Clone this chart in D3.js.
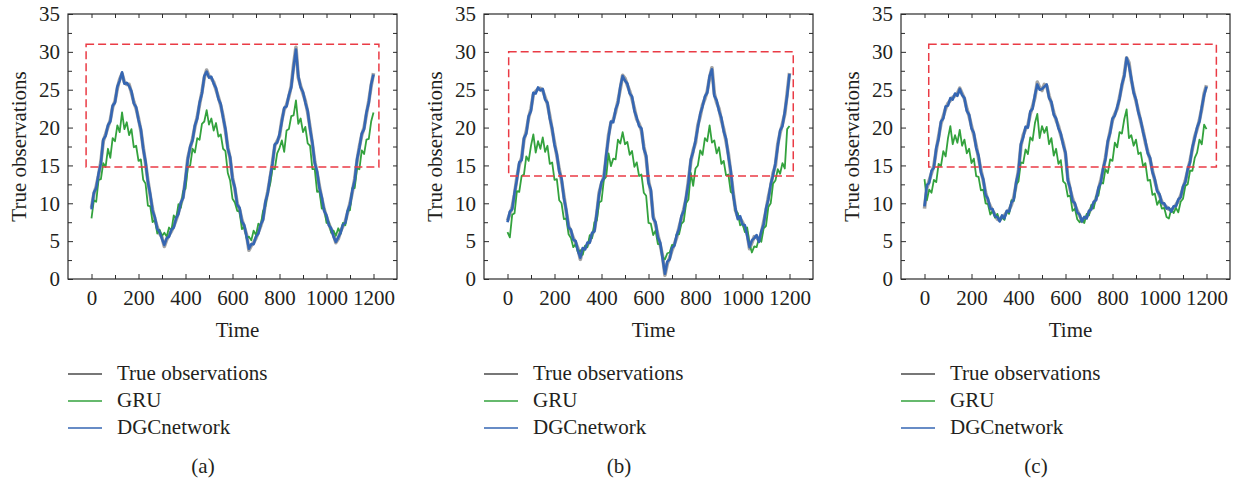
<!DOCTYPE html>
<html>
<head>
<meta charset="utf-8">
<script src="https://cdn.jsdelivr.net/npm/d3@7"></script>
<style>
    body { margin: 0; background: #fff; }
    .axis path { display: none; }
    .axis line { stroke: #2b2b2b; stroke-width: 1; }
</style>
</head>
<body>
<svg id="chart" width="1234" height="481"></svg>
<script>

// samples every 10 time steps, t = 0 .. 1200
var timeStep = 10;

var xMajorTicks = [0, 200, 400, 600, 800, 1000, 1200];
var xMinorTicks = [100, 300, 500, 700, 900, 1100];
var yMajorTicks = [0, 5, 10, 15, 20, 25, 30, 35];
var yMinorTicks = [2.5, 7.5, 12.5, 17.5, 22.5, 27.5, 32.5];

var seriesNames = ["True observations", "GRU", "DGCnetwork"];
var panelLabels = ["(a)", "(b)", "(c)"];

// ---- panel (a)
var trueA = [9.4, 11.2, 12.2, 13.7, 15.5, 18.2, 19.1, 20.1, 21.0, 22.7,
    23.5, 25.2, 26.4, 27.1, 26.0, 25.7, 25.7, 24.6, 23.4, 22.5,
    21.2, 19.6, 17.4, 15.3, 13.0, 11.0, 9.2, 7.9, 6.8, 6.0,
    5.5, 4.3, 5.2, 5.8, 6.3, 7.0, 7.8, 8.8, 9.9, 10.9,
    13.1, 16.0, 17.3, 18.5, 20.1, 21.4, 23.1, 24.7, 26.6, 27.6,
    26.8, 26.5, 26.0, 25.0, 24.0, 22.9, 21.5, 19.6, 17.4, 15.9,
    13.4, 11.9, 10.0, 9.2, 7.8, 6.9, 5.8, 3.8, 4.4, 4.8,
    5.4, 6.2, 7.0, 8.0, 10.0, 11.5, 13.3, 15.4, 17.6, 18.2,
    18.9, 21.0, 22.4, 23.0, 24.1, 25.5, 28.3, 30.6, 26.6, 25.5,
    24.5, 23.5, 22.0, 20.0, 17.8, 15.5, 14.0, 12.2, 10.6, 9.2,
    8.2, 7.3, 6.5, 5.8, 4.8, 5.3, 6.3, 7.0, 7.6, 8.8,
    10.0, 11.5, 13.2, 15.6, 17.5, 19.0, 20.0, 21.8, 23.5, 25.5,
    27.2];
var gruA = [8.0, 10.4, 10.2, 13.1, 13.2, 15.3, 14.8, 17.2, 16.0, 18.6,
    18.2, 20.3, 19.4, 22.0, 19.8, 20.7, 19.0, 19.8, 17.4, 17.6,
    15.6, 15.8, 13.1, 12.6, 9.7, 9.6, 7.5, 7.8, 6.0, 6.5,
    5.7, 6.1, 5.6, 6.8, 6.4, 8.4, 7.9, 9.9, 9.4, 11.6,
    11.9, 14.7, 15.0, 17.2, 16.7, 18.6, 18.4, 20.5, 20.8, 22.3,
    20.4, 21.2, 19.6, 20.6, 18.8, 19.1, 17.2, 16.9, 14.0, 13.0,
    10.6, 10.1, 9.0, 8.9, 6.6, 6.9, 5.4, 5.6, 5.1, 6.4,
    5.8, 7.3, 7.0, 9.0, 9.6, 11.5, 12.5, 14.6, 14.5, 16.6,
    17.3, 18.3, 16.8, 19.6, 19.8, 21.5, 21.6, 23.6, 20.5, 21.2,
    19.4, 20.1, 17.9, 17.6, 14.5, 14.5, 11.5, 11.6, 9.3, 9.4,
    7.4, 7.5, 6.1, 6.4, 5.7, 6.7, 6.0, 7.4, 7.1, 9.0,
    9.1, 12.0, 12.0, 14.6, 14.5, 17.0, 16.5, 18.4, 18.5, 20.8,
    22.0];
var dgcA = [9.2, 11.4, 12.0, 13.9, 15.3, 18.4, 18.9, 20.3, 20.8, 22.9,
    23.3, 25.4, 26.2, 27.3, 25.8, 25.9, 25.5, 24.8, 23.2, 22.7,
    21.0, 19.8, 17.2, 15.5, 12.8, 11.2, 9.0, 8.1, 6.6, 6.2,
    5.3, 4.5, 5.4, 5.6, 6.5, 6.8, 8.0, 8.6, 10.1, 10.7,
    13.3, 15.8, 17.5, 18.3, 20.3, 21.2, 23.3, 24.5, 26.8, 27.4,
    26.6, 26.7, 25.8, 25.2, 23.8, 23.1, 21.3, 19.8, 17.2, 16.1,
    13.2, 12.1, 9.8, 9.4, 7.6, 7.1, 5.6, 4.0, 4.6, 4.6,
    5.6, 6.0, 7.2, 7.8, 10.2, 11.3, 13.5, 15.2, 17.8, 18.0,
    19.1, 20.8, 22.6, 22.8, 24.3, 25.3, 28.0, 30.3, 26.8, 25.3,
    24.7, 23.3, 22.2, 19.8, 18.0, 15.3, 14.2, 12.0, 10.8, 9.0,
    8.4, 7.1, 6.7, 5.6, 4.9, 5.5, 6.1, 7.2, 7.4, 9.0,
    9.8, 11.7, 13.0, 15.8, 17.3, 19.2, 19.8, 22.0, 23.3, 25.7,
    27.0];
var boxA = [-23, 1223, 14.8, 31.0];

// ---- panel (b)
var trueB = [7.7, 8.6, 9.5, 11.2, 13.4, 15.1, 16.0, 18.4, 19.5, 21.3,
    22.5, 24.4, 24.8, 25.1, 25.2, 24.9, 24.0, 23.1, 21.5, 19.7,
    18.0, 16.3, 14.5, 13.0, 11.0, 8.9, 7.0, 6.3, 5.4, 4.8,
    4.0, 2.6, 3.9, 4.1, 4.5, 5.0, 5.9, 6.5, 8.6, 11.4,
    12.6, 13.5, 16.1, 19.0, 20.6, 21.0, 22.1, 23.5, 25.1, 26.9,
    26.5, 25.6, 24.8, 23.8, 22.5, 21.1, 20.5, 19.6, 17.5, 16.0,
    13.0, 11.5, 8.3, 7.2, 5.8, 4.5, 3.0, 0.5, 2.0, 2.8,
    3.8, 4.6, 5.5, 6.8, 8.0, 9.2, 10.6, 13.0, 15.5, 17.0,
    18.0, 20.3, 21.5, 23.0, 23.8, 24.8, 26.6, 27.9, 24.5, 23.3,
    22.5, 21.0, 19.8, 18.2, 16.5, 14.0, 11.5, 9.1, 8.2, 8.0,
    7.5, 6.8, 6.0, 4.0, 4.8, 5.6, 5.5, 5.1, 6.0, 7.5,
    9.0, 10.8, 12.2, 14.0, 15.0, 17.8, 19.3, 20.5, 21.8, 24.5,
    27.2];
var gruB = [6.2, 5.5, 8.5, 8.7, 11.6, 11.5, 13.6, 13.8, 16.2, 15.6,
    17.6, 19.1, 16.7, 18.2, 17.2, 18.7, 16.8, 17.6, 15.2, 15.4,
    13.1, 13.2, 10.4, 10.0, 7.9, 8.0, 5.9, 5.4, 4.2, 4.6,
    3.5, 3.8, 3.2, 4.4, 4.2, 5.8, 5.4, 7.5, 7.7, 10.1,
    10.3, 13.1, 13.5, 16.6, 14.9, 15.9, 15.8, 18.4, 17.9, 19.4,
    17.8, 18.1, 16.4, 16.9, 14.8, 15.4, 13.6, 13.8, 11.4, 11.0,
    7.4, 7.3, 5.8, 6.4, 4.6, 4.6, 2.9, 2.6, 3.4, 3.5,
    4.5, 4.4, 5.9, 5.9, 7.3, 7.6, 10.0, 10.5, 14.0, 12.3,
    14.6, 15.0, 17.0, 16.4, 18.6, 18.2, 20.3, 18.0, 18.3, 16.6,
    17.4, 15.2, 15.6, 13.7, 13.8, 11.5, 11.3, 9.0, 8.7, 7.1,
    7.3, 6.2, 6.8, 4.6, 3.5, 4.3, 4.2, 5.4, 4.9, 6.7,
    7.0, 9.5, 10.0, 12.6, 13.0, 14.5, 13.9, 15.3, 14.6, 19.8,
    20.2];
var dgcB = [7.5, 8.9, 9.2, 11.4, 13.1, 15.4, 15.7, 18.6, 19.2, 21.5,
    22.2, 24.6, 24.5, 25.3, 24.9, 25.1, 23.7, 23.3, 21.2, 19.9,
    17.7, 16.5, 14.2, 13.3, 10.7, 9.1, 6.8, 6.5, 5.2, 5.0,
    3.7, 2.8, 4.1, 3.9, 4.8, 4.8, 6.1, 6.3, 8.8, 11.2,
    12.8, 13.3, 16.4, 18.7, 20.8, 20.7, 22.4, 23.2, 25.4, 26.8,
    26.2, 25.8, 24.5, 24.1, 22.2, 21.3, 20.2, 19.9, 17.2, 16.3,
    12.7, 11.8, 8.0, 7.5, 5.5, 4.8, 2.7, 0.7, 2.3, 2.6,
    4.1, 4.4, 5.8, 6.6, 8.3, 9.0, 10.8, 12.7, 15.8, 16.8,
    18.3, 20.0, 21.8, 22.8, 24.1, 24.6, 26.8, 27.7, 24.2, 23.6,
    22.2, 21.3, 19.5, 18.5, 16.2, 14.3, 11.2, 9.3, 7.9, 8.3,
    7.2, 7.1, 5.7, 4.2, 5.1, 5.4, 5.8, 4.9, 6.3, 7.2,
    9.3, 10.5, 12.5, 13.7, 15.3, 17.5, 19.6, 20.2, 22.1, 24.2,
    27.1];
var boxB = [5, 1216, 13.6, 30.0];

// ---- panel (c)
var trueC = [9.3, 12.0, 13.0, 14.0, 15.0, 17.0, 18.8, 20.5, 21.5, 22.5,
    23.2, 23.6, 24.0, 24.2, 24.5, 25.2, 24.5, 23.8, 22.5, 21.5,
    20.2, 19.0, 17.6, 16.0, 14.4, 13.0, 11.4, 10.3, 9.6, 9.0,
    8.5, 7.9, 7.8, 8.2, 8.4, 8.8, 9.1, 9.8, 10.8, 12.5,
    14.4, 17.5, 19.0, 19.8, 20.3, 21.8, 22.8, 24.0, 26.0, 25.3,
    24.9, 25.7, 25.5, 24.2, 23.2, 22.0, 21.0, 20.2, 19.0, 18.0,
    16.5, 13.3, 11.8, 10.6, 9.8, 9.0, 8.4, 7.6, 8.0, 8.2,
    8.8, 9.4, 10.0, 10.6, 11.8, 13.0, 14.4, 16.0, 18.0, 19.5,
    21.0, 21.8, 22.5, 24.0, 25.5, 27.0, 29.2, 28.6, 26.3, 24.8,
    23.5, 22.2, 20.8, 19.6, 18.0, 16.8, 15.8, 14.3, 13.0, 11.8,
    11.0, 10.2, 9.8, 9.5, 9.2, 9.1, 9.4, 9.8, 10.3, 11.0,
    12.0, 13.0, 14.3, 15.6, 17.2, 18.8, 19.8, 21.0, 22.5, 24.5,
    25.6];
var gruC = [13.2, 10.4, 11.8, 11.4, 13.1, 12.8, 15.2, 14.9, 16.9, 16.2,
    18.6, 20.2, 17.8, 19.0, 18.0, 19.7, 17.6, 18.4, 16.6, 17.2,
    15.3, 15.9, 13.6, 13.5, 11.7, 11.8, 10.0, 9.9, 8.5, 9.0,
    8.1, 8.6, 7.7, 8.1, 7.8, 9.0, 8.6, 10.4, 10.3, 12.5,
    12.9, 15.4, 15.3, 17.1, 16.5, 18.7, 18.3, 20.6, 21.8, 18.6,
    20.2, 19.3, 20.1, 17.8, 18.6, 16.3, 17.2, 15.2, 15.7, 12.9,
    12.6, 10.9, 11.0, 9.0, 9.3, 7.9, 7.5, 8.0, 7.4, 8.6,
    8.4, 9.8, 9.3, 10.9, 11.0, 12.8, 12.6, 14.5, 14.0, 15.8,
    15.6, 18.0, 17.4, 19.4, 19.2, 21.1, 22.4, 18.6, 19.0, 17.6,
    18.4, 16.5, 16.7, 14.9, 15.3, 13.0, 13.1, 11.1, 11.3, 9.8,
    10.4, 9.3, 9.4, 8.2, 8.0, 9.2, 8.7, 9.4, 8.8, 10.2,
    10.6, 12.3, 12.5, 14.3, 14.3, 16.0, 16.7, 18.4, 17.8, 20.4,
    19.8];
var dgcC = [9.6, 12.4, 12.7, 14.3, 14.7, 17.3, 18.5, 20.8, 21.2, 22.8,
    22.9, 23.9, 23.7, 24.5, 24.2, 25.1, 24.3, 23.9, 22.2, 21.7,
    19.9, 19.3, 17.3, 16.3, 14.1, 13.2, 11.1, 10.6, 9.3, 9.2,
    8.3, 8.2, 7.6, 8.4, 8.0, 9.0, 8.9, 10.1, 10.5, 12.8,
    14.1, 17.8, 18.7, 20.1, 20.0, 22.1, 22.5, 24.3, 25.7, 25.0,
    25.1, 25.4, 25.7, 23.9, 23.4, 21.7, 21.2, 19.9, 19.2, 17.7,
    16.7, 13.0, 12.0, 10.3, 10.0, 8.8, 8.5, 7.6, 8.2, 8.0,
    9.0, 9.2, 10.2, 10.4, 12.0, 12.7, 14.6, 15.8, 18.2, 19.3,
    21.2, 21.6, 22.7, 23.8, 25.7, 26.8, 29.2, 28.2, 26.5, 24.6,
    23.7, 22.0, 21.0, 19.4, 18.2, 16.6, 16.0, 14.1, 13.2, 11.6,
    11.2, 10.0, 10.0, 9.3, 9.4, 8.9, 9.6, 9.6, 10.5, 10.8,
    12.2, 12.8, 14.5, 15.4, 17.4, 18.6, 20.0, 20.8, 22.7, 24.3,
    25.4];
var boxC = [18, 1242, 14.8, 31.0];

var colors = ["#4a4a4a", "#33a23d", "#3566b3"];
var serif = "'Liberation Serif', 'DejaVu Serif', serif";

var panels = [
    {label: panelLabels[0], left: 68, series: [trueA, gruA, dgcA], box: boxA},
    {label: panelLabels[1], left: 484, series: [trueB, gruB, dgcB], box: boxB},
    {label: panelLabels[2], left: 901, series: [trueC, gruC, dgcC], box: boxC}
];

var svg = d3.select("#chart"),
    top0 = 14,
    width = 329,
    height = 265;

var x = d3.scaleLinear().domain([-100, 1300]).range([0, width]),
    y = d3.scaleLinear().domain([0, 35]).range([height, 0]);

var line = d3.line()
    .x(function(d, i) { return x(i * timeStep); })
    .y(function(d) { return y(d); });

function styleText(sel) {
    sel.style("font-family", serif)
        .style("font-size", "21px")
        .style("fill", "#231f20");
}

panels.forEach(function(p) {
    var g = svg.append("g")
        .attr("transform", "translate(" + p.left + "," + top0 + ")");

    // frame
    g.append("rect")
        .attr("width", width)
        .attr("height", height)
        .attr("fill", "none")
        .attr("stroke", "#2b2b2b")
        .attr("stroke-width", 1.2);

    // inward ticks on all four sides
    g.append("g").attr("class", "axis")
        .attr("transform", "translate(0," + height + ")")
        .call(d3.axisBottom(x).tickValues(xMajorTicks).tickFormat(d3.format("d"))
            .tickSize(-5).tickSizeOuter(0).tickPadding(11))
        .selectAll("text").call(styleText);
    g.append("g").attr("class", "axis")
        .attr("transform", "translate(0," + height + ")")
        .call(d3.axisBottom(x).tickValues(xMinorTicks).tickSize(-4).tickSizeOuter(0).tickFormat(""));
    g.append("g").attr("class", "axis")
        .call(d3.axisTop(x).tickValues(xMajorTicks.concat(xMinorTicks)).tickSize(-4).tickSizeOuter(0).tickFormat(""));

    g.append("g").attr("class", "axis")
        .call(d3.axisLeft(y).tickValues(yMajorTicks).tickSize(-5).tickSizeOuter(0).tickPadding(8))
        .selectAll("text").call(styleText);
    g.append("g").attr("class", "axis")
        .call(d3.axisLeft(y).tickValues(yMinorTicks).tickSize(-4).tickSizeOuter(0).tickFormat(""));
    g.append("g").attr("class", "axis")
        .attr("transform", "translate(" + width + ",0)")
        .call(d3.axisRight(y).tickValues(yMajorTicks.concat(yMinorTicks)).tickSize(-4).tickSizeOuter(0).tickFormat(""));

    // series: truth underneath, then GRU, then DGCnetwork
    var widths = [3.6, 1.8, 2.6];
    var opac = [0.5, 1, 1];
    p.series.forEach(function(vals, k) {
        g.append("path")
            .datum(vals)
            .attr("fill", "none")
            .attr("stroke", colors[k])
            .attr("stroke-width", widths[k])
            .attr("stroke-opacity", opac[k])
            .attr("stroke-linejoin", "round")
            .attr("d", line);
    });

    // red dashed region
    g.append("rect")
        .attr("x", x(p.box[0]))
        .attr("y", y(p.box[3]))
        .attr("width", x(p.box[1]) - x(p.box[0]))
        .attr("height", y(p.box[2]) - y(p.box[3]))
        .attr("fill", "none")
        .attr("stroke", "#ea3b45")
        .attr("stroke-width", 1.5)
        .attr("stroke-dasharray", "8,4");

    // axis titles
    g.append("text")
        .attr("x", width / 2 + 5)
        .attr("y", 323)
        .attr("text-anchor", "middle")
        .call(styleText)
        .text("Time");

    g.append("text")
        .attr("transform", "translate(-42," + (height / 2) + ") rotate(-90)")
        .attr("text-anchor", "middle")
        .call(styleText)
        .text("True observations");

    // legend
    var leg = g.append("g").attr("transform", "translate(0," + (374 - top0) + ")");
    var rowY = [0, 27, 54];
    seriesNames.forEach(function(name, k) {
        leg.append("line")
            .attr("x1", 0).attr("x2", 34)
            .attr("y1", rowY[k]).attr("y2", rowY[k])
            .attr("stroke", colors[k])
            .attr("stroke-width", 1.3);
        leg.append("text")
            .attr("x", 49)
            .attr("y", rowY[k] + 6)
            .call(styleText)
            .text(name);
    });

    // caption
    g.append("text")
        .attr("x", 135)
        .attr("y", 473 - top0)
        .attr("text-anchor", "middle")
        .call(styleText)
        .text(p.label);
});

</script>
</body>
</html>
